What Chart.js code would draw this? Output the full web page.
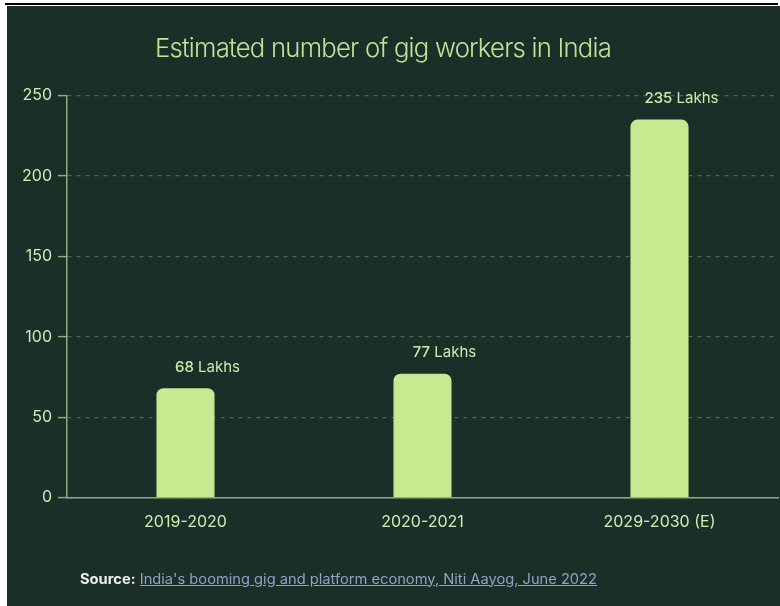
<!DOCTYPE html>
<html>
<head>
<meta charset="utf-8">
<script src="https://cdn.jsdelivr.net/npm/chart.js@4.4.1/dist/chart.umd.min.js"></script>
<style>
  html,body{margin:0;padding:0;background:#fff;width:780px;height:606px;overflow:hidden;}
  #topline{position:absolute;left:5px;top:3px;width:773px;height:2px;background:#000;}
  #panel{position:absolute;left:7px;top:6px;width:773px;height:600px;background:#1b2e27;}
  #chart{position:absolute;left:0;top:0;}
  .fit{position:absolute;white-space:nowrap;transform-origin:0 50%;}
  #title{font-family:Inter,"Noto Sans",sans-serif;font-weight:300;font-size:26px;color:#c2e29a;letter-spacing:-0.8px;}
  #source{font-family:Inter,"Noto Sans",sans-serif;font-size:14px;color:#8ea3c6;}
  #source b{color:#eef2ea;font-weight:700;}
  #source a{color:#8ea3c6;text-decoration:underline;}
</style>
</head>
<body>
<div id="topline"></div>
<div id="panel"></div>
<canvas id="chart" width="780" height="606"></canvas>
<div id="title" class="fit">Estimated number of gig workers in India</div>
<div id="source" class="fit"><b>Source:</b> <a>India's booming gig and platform economy, Niti Aayog, June 2022</a></div>
<script>
const categories = ["2019-2020", "2020-2021", "2029-2030 (E)"];
const workersLakhs = [68, 77, 235];
const valueLabels = ["68", "77", "235"];
const unitLabel = "Lakhs";
const yTicks = [0, 50, 100, 150, 200, 250];

function fitText(id, left, centerY, targetWidth) {
  const el = document.getElementById(id);
  const w = el.getBoundingClientRect().width;
  const h = el.getBoundingClientRect().height;
  el.style.left = left + "px";
  el.style.top = (centerY - h / 2) + "px";
  el.style.transform = "scaleX(" + (targetWidth / w) + ")";
}
fitText("title", 155, 47, 456);
fitText("source", 80, 578, 517);

const barLabelPlugin = {
  id: "barLabels",
  afterDatasetsDraw(chart) {
    const ctx = chart.ctx;
    const meta = chart.getDatasetMeta(0);
    ctx.save();
    ctx.textBaseline = "middle";
    ctx.fillStyle = "#cfe9ad";
    meta.data.forEach((bar, i) => {
      const numFont = "500 15px Inter, 'Noto Sans', sans-serif";
      const unitFont = "400 15px Inter, 'Noto Sans', sans-serif";
      ctx.font = numFont;
      const nw = ctx.measureText(valueLabels[i]).width;
      ctx.font = unitFont;
      const uw = ctx.measureText(" " + unitLabel).width;
      const total = nw + uw;
      const cx = bar.x + 22;
      const y = bar.y - 21;
      let x = cx - total / 2;
      ctx.textAlign = "left";
      ctx.font = numFont;
      ctx.fillText(valueLabels[i], x, y);
      ctx.font = unitFont;
      ctx.fillText(" " + unitLabel, x + nw, y);
    });
    ctx.restore();
  }
};

new Chart(document.getElementById("chart"), {
  type: "bar",
  data: {
    labels: categories,
    datasets: [{
      data: workersLakhs,
      backgroundColor: "#c6ea8f",
      borderWidth: 0,
      borderRadius: 7,
      borderSkipped: "bottom",
      barPercentage: 0.245,
      categoryPercentage: 1
    }]
  },
  options: {
    responsive: false,
    devicePixelRatio: 1,
    animation: false,
    layout: { padding: { top: 95.5, right: 2, bottom: 68.5, left: 0 } },
    plugins: { legend: { display: false }, tooltip: { enabled: false }, title: { display: false } },
    scales: {
      x: {
        grid: { display: true, drawOnChartArea: false, drawTicks: false },
        border: { display: true, color: "#8faa84", width: 1.5 },
        ticks: { color: "#d3ebb2", font: { family: "Inter, 'Noto Sans', sans-serif", size: 16 }, padding: 15, maxRotation: 0 },
        afterFit(scale) { scale.height = 40; }
      },
      y: {
        min: 0, max: 250,
        afterBuildTicks(scale) { scale.ticks = yTicks.map(v => ({ value: v })); },
        grid: { color: "#4a6654", lineWidth: 1.2, tickLength: 9, tickColor: "#8faa84", tickWidth: 1.5 },
        border: { display: true, color: "#8faa84", width: 1.5, dash: [4, 5] },
        ticks: { color: "#d3ebb2", font: { family: "Inter, 'Noto Sans', sans-serif", size: 16 }, padding: 6 },
        afterFit(scale) { scale.width = 67; }
      }
    }
  },
  plugins: [barLabelPlugin]
});
</script>
</body>
</html>
